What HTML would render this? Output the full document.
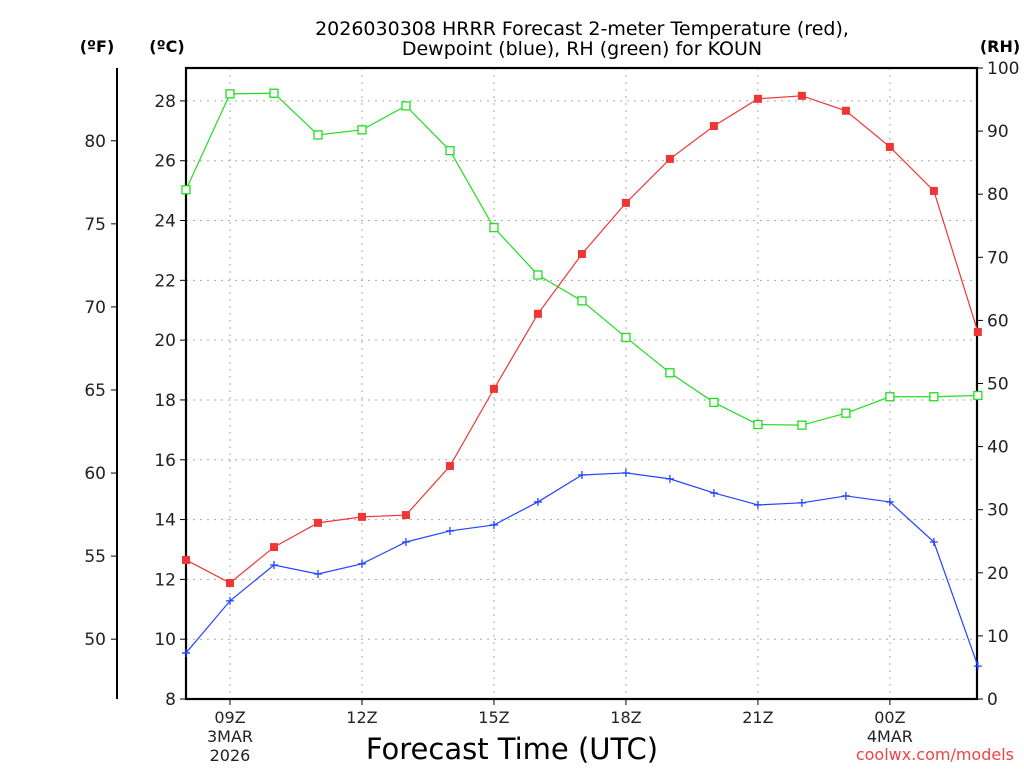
<!DOCTYPE html>
<html><head><meta charset="utf-8"><style>
body{margin:0;background:#fff;width:1024px;height:768px;overflow:hidden;font-family:"DejaVu Sans","Liberation Sans",sans-serif}
svg text{font-family:"DejaVu Sans","Liberation Sans",sans-serif}
</style></head><body>
<svg id="c" width="1024" height="768" xmlns="http://www.w3.org/2000/svg"></svg>
<script>
const hours=[8,9,10,11,12,13,14,15,16,17,18,19,20,21,22,23,24,25,26];
const tempC=[12.65,11.88,13.08,13.89,14.09,14.15,15.79,18.37,20.88,22.88,24.59,26.06,27.16,28.07,28.17,27.67,26.46,24.99,20.27];
const dewC=[9.54,11.28,12.48,12.18,12.52,13.25,13.62,13.82,14.59,15.49,15.56,15.36,14.89,14.49,14.56,14.79,14.59,13.25,9.10];
const rh=[80.7,95.9,96.0,89.4,90.2,94.0,86.9,74.7,67.2,63.1,57.3,51.7,47.0,43.5,43.4,45.3,47.9,47.9,48.1];
const cTicks=[8,10,12,14,16,18,20,22,24,26,28];
const fTicks=[50,55,60,65,70,75,80];
const rhTicks=[0,10,20,30,40,50,60,70,80,90,100];
const xTicks=[9,12,15,18,21,24];
const xLabels=["09Z","12Z","15Z","18Z","21Z","00Z"];
const L=186,R=977,T=68,B=699;
const x=h=>L+(h-8)*(R-L)/17.98;
const yC=c=>B-(c-8)*(B-T)/21.1;
const yRH=v=>B-v*(B-T)/100;
const yF=f=>yC((f-32)*5/9);
const s=document.getElementById('c');const NS="http://www.w3.org/2000/svg";
function el(t,a,txt){const e=document.createElementNS(NS,t);for(const k in a)e.setAttribute(k,a[k]);if(txt!==undefined)e.textContent=txt;s.appendChild(e);return e;}
cTicks.forEach(c=>{if(c>8){const g=el('line',{x1:L,x2:R,y1:yC(c),y2:yC(c),stroke:'#aaa','stroke-dasharray':'2,5'});}});
xTicks.forEach(h=>{const g=el('line',{x1:x(h),x2:x(h),y1:T,y2:B,stroke:'#aaa','stroke-dasharray':'2,5'});});
const fr=el('rect',{x:L,y:T,width:R-L,height:B-T,fill:'none',stroke:'#000','stroke-width':2.2});

cTicks.forEach(c=>{el('line',{x1:L-6,x2:L,y1:yC(c),y2:yC(c),stroke:'#000'});
const t=el('text',{x:L-10,y:yC(c)+6,'text-anchor':'end','font-size':17,fill:'#222'},c);});
const fa=el('line',{x1:117,x2:117,y1:T,y2:B,stroke:'#000','stroke-width':2});
fTicks.forEach(f=>{el('line',{x1:111,x2:117,y1:yF(f),y2:yF(f),stroke:'#000'});
const t=el('text',{x:106,y:yF(f)+6,'text-anchor':'end','font-size':17,fill:'#222'},f);});
rhTicks.forEach(v=>{el('line',{x1:R,x2:R+6,y1:yRH(v),y2:yRH(v),stroke:'#000'});
const t=el('text',{x:R+10,y:yRH(v)+6,'text-anchor':'start','font-size':17,fill:'#222'},v);});
xTicks.forEach((h,i)=>{el('line',{x1:x(h),x2:x(h),y1:B,y2:B+6,stroke:'#000'});
const t=el('text',{x:x(h),y:B+24,'text-anchor':'middle','font-size':16,fill:'#222'},xLabels[i]);});
[["3MAR",9,742],["2026",9,761],["4MAR",24,742]].forEach(a=>{const t=el('text',{x:x(a[1]),y:a[2],'text-anchor':'middle','font-size':16,fill:'#222'},a[0]);});
[["(ºF)",97],["(ºC)",167],["(RH)",1000]].forEach(a=>{const t=el('text',{x:a[1],y:52,'text-anchor':'middle','font-size':16,'font-weight':'bold'},a[0]);});
let t=el('text',{x:582,y:35,'text-anchor':'middle','font-size':19},"2026030308 HRRR Forecast 2-meter Temperature (red),");
t=el('text',{x:582,y:55,'text-anchor':'middle','font-size':19},"Dewpoint (blue), RH (green) for KOUN");
t=el('text',{x:512,y:759,'text-anchor':'middle','font-size':29},"Forecast Time (UTC)");
t=el('text',{x:1014,y:760,'text-anchor':'end','font-size':16,fill:'#f04444'},"coolwx.com/models");
function series(vals,yf,col,name,mk){
 const p=el('polyline',{points:vals.map((v,i)=>x(hours[i])+','+yf(v)).join(' '),fill:'none',stroke:col,'stroke-width':1.2});
 
 vals.forEach((v,i)=>{const cx=x(hours[i]),cy=yf(v);let m;
  if(mk==='fill')m=el('rect',{x:cx-4,y:cy-4,width:8,height:8,fill:col});
  else if(mk==='open')m=el('rect',{x:cx-4,y:cy-4,width:8,height:8,fill:'#fff',stroke:col,'stroke-width':1.3});
  else m=el('path',{d:`M${cx-4},${cy}H${cx+4}M${cx},${cy-4}V${cy+4}`,stroke:col,'stroke-width':1.3});
  });
}
series(rh,yRH,'#22dd22','rh','open');
series(tempC,yC,'#f03535','temperature','fill');
series(dewC,yC,'#2244ff','dewpoint','plus');
</script>
</body></html>
